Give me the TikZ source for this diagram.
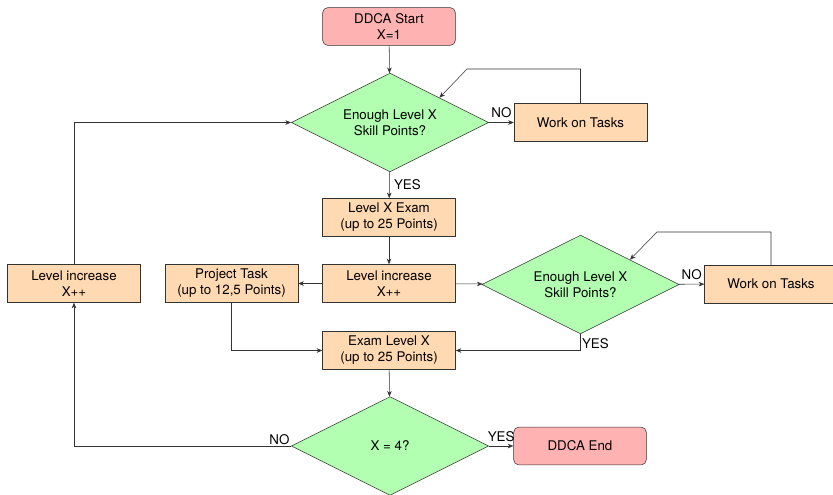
\documentclass[tikz,border=0pt]{standalone}
\usepackage{fontspec}
\setmainfont{TeX Gyre Heros}
\usetikzlibrary{arrows.meta, shapes.geometric}

\begin{document}
\begin{tikzpicture}[
    x=0.75pt, y=-0.75pt,
    startstop/.style={rectangle, rounded corners=4pt, draw=black!80, fill=red!30,
        minimum width=3.5cm, minimum height=1cm, align=center},
    process/.style={rectangle, draw=black!80, fill=orange!30,
        minimum width=3.5cm, minimum height=1cm, align=center},
    decision/.style={diamond, aspect=2, draw=black!80, fill=green!30,
        minimum width=5.2cm, minimum height=2.6cm, inner sep=1pt, align=center},
    arrow/.style={draw=black!80, -{Stealth[length=1.5mm, width=1.2mm]}}
]

% frame of the picture
\clip (0,0) rectangle (833,494);

% =========================
% NODES
% =========================
\node[startstop] (start) at (389,26.5) {DDCA Start\\X=1};
\node[decision]  (dec1)  at (390,122.5) {Enough Level X\\Skill Points?};
\node[process]   (work1) at (580.5,122.5) {Work on Tasks};
\node[process]   (exam1) at (389,217.5) {Level X Exam\\(up to 25 Points)};
\node[process]   (inc1)  at (389,283.5) {Level increase\\X++};
\node[process]   (proj)  at (231.5,283.5) {Project Task\\(up to 12,5 Points)};
\node[process]   (inc2)  at (74,283.5) {Level increase\\X++};
\node[decision]  (dec2)  at (580.5,284.5) {Enough Level X\\Skill Points?};
\node[process]   (work2) at (771,284) {Work on Tasks};
\node[process]   (exam2) at (389,350.5) {Exam Level X\\(up to 25 Points)};
\node[decision]  (dec3)  at (390,446) {X = 4?};
\node[startstop] (stop)  at (580,446) {DDCA End};

% bends of the two loops
\coordinate (bend1) at (467,69);
\coordinate (bend2) at (657,232);

% =========================
% CONNECTORS
% =========================
\draw[arrow] (start) -- (dec1);
\draw[arrow] (dec1) -- node[midway,above] {NO} (work1);
\draw[arrow] (work1.north) |- (bend1) -- (dec1.north east);
\draw[arrow] (dec1) -- node[midway,right] {YES} (exam1);
\draw[arrow] (exam1) -- (inc1);
\draw[arrow] (inc1) -- (proj);
\draw[arrow] (inc1) -- (dec2);
\draw[arrow] (dec2) -- node[midway,above] {NO} (work2);
\draw[arrow] (work2.north) |- (bend2) -- (dec2.north east);
\draw[arrow] (dec2.south) |- node[pos=0.5,above right,inner sep=1pt] {YES} (exam2.east);
\draw[arrow] (proj.south) |- (exam2.west);
\draw[arrow] (exam2) -- (dec3);
\draw[arrow] (dec3.west) -| node[pos=0,above left,inner sep=1pt] {NO} (inc2.south);
\draw[arrow] (inc2.north) |- (dec1.west);
\draw[arrow] (dec3) -- node[midway,above] {YES} (stop);
\end{tikzpicture}
\end{document}
